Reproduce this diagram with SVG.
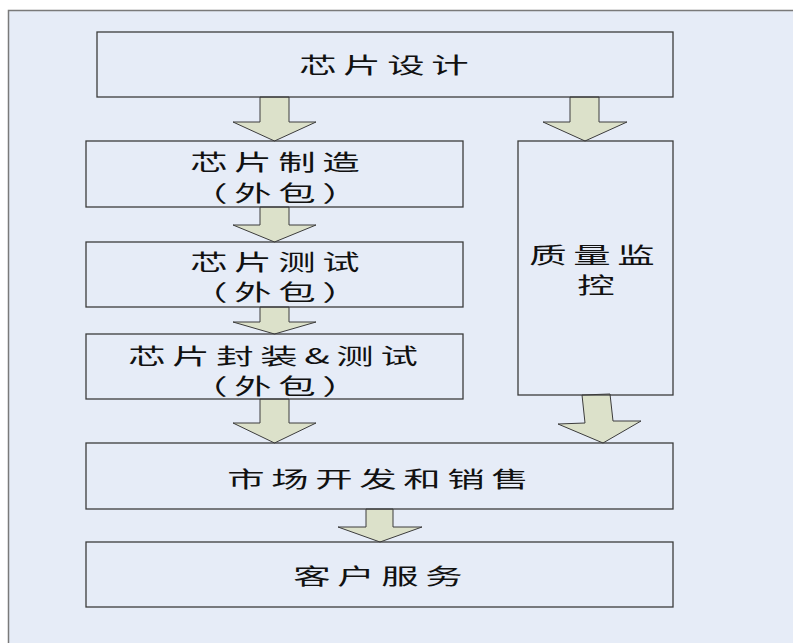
<svg xmlns="http://www.w3.org/2000/svg" width="793" height="643" viewBox="0 0 793 643">
<style>
.box{fill:none;stroke:#3c3c3c;stroke-width:1.3}
.arr{fill:#DCE1CA;stroke:#3c3c3c;stroke-width:1}
.t{font-family:"Noto Sans CJK SC","Noto Sans",sans-serif;font-size:22px;letter-spacing:3.9px;text-anchor:middle;dominant-baseline:central;fill:#111}
</style>
<rect x="0" y="0" width="793" height="643" fill="#ffffff"/>
<rect x="8.5" y="10.5" width="800" height="700" fill="#E6ECF7" stroke="#7a7a7a" stroke-width="1.5"/>
<g id="connectors">
<polygon class="arr" points="260,97 289,97 289,122 316,122 274.5,141 233,122 260,122"/>
<polygon class="arr" points="570,97 599,97 599,122 627,122 585,141 543,122 570,122"/>
<polygon class="arr" points="260,207 289,207 289,225 316,225 274.5,242 233,225 260,225"/>
<polygon class="arr" points="260,307 289,307 289,322 316,322 274.5,334 233,322 260,322"/>
<polygon class="arr" points="260,399 289,399 289,423 316,423 274.5,443 233,423 260,423"/>
<polygon class="arr" points="366,509 393,509 393,527 422,527 380,542 338,527 366,527"/>
<polygon class="arr" points="582,395 610,394 613,421 641,421 603,443 558,424 585,423"/>
</g>
<g id="design">
<rect class="box" x="97" y="32" width="576" height="65"/>
<g transform="translate(384,63) scale(1.7,1)"><text class="t" x="1.95" y="0">芯片设计</text></g>
</g>
<g id="manufacture">
<rect class="box" x="86" y="141" width="377" height="66"/>
<g transform="translate(275,160) scale(1.7,1)"><text class="t" x="1.95" y="0">芯片制造</text></g>
<g transform="translate(275,191) scale(1.7,1)"><text class="t" x="1.95" y="0">（外包）</text></g>
</g>
<g id="test">
<rect class="box" x="86" y="242" width="377" height="65"/>
<g transform="translate(275,260) scale(1.7,1)"><text class="t" x="1.95" y="0">芯片测试</text></g>
<g transform="translate(275,290) scale(1.7,1)"><text class="t" x="1.95" y="0">（外包）</text></g>
</g>
<g id="package">
<rect class="box" x="86" y="334" width="377" height="65"/>
<g transform="translate(273,354) scale(1.7,1)"><text class="t" x="1.95" y="0">芯片封装&amp;测试</text></g>
<g transform="translate(275,384) scale(1.7,1)"><text class="t" x="1.95" y="0">（外包）</text></g>
</g>
<g id="quality">
<rect class="box" x="518" y="141" width="155" height="254"/>
<g transform="translate(592,253) scale(1.7,1)"><text class="t" x="1.95" y="0">质量监</text></g>
<g transform="translate(596,283) scale(1.7,1)"><text class="t" x="1.95" y="0">控</text></g>
</g>
<g id="market">
<rect class="box" x="86" y="443" width="587" height="66"/>
<g transform="translate(378,477) scale(1.7,1)"><text class="t" x="1.95" y="0">市场开发和销售</text></g>
</g>
<g id="service">
<rect class="box" x="86" y="542" width="587" height="65"/>
<g transform="translate(378,574.5) scale(1.7,1)"><text class="t" x="1.95" y="0">客户服务</text></g>
</g>
</svg>
